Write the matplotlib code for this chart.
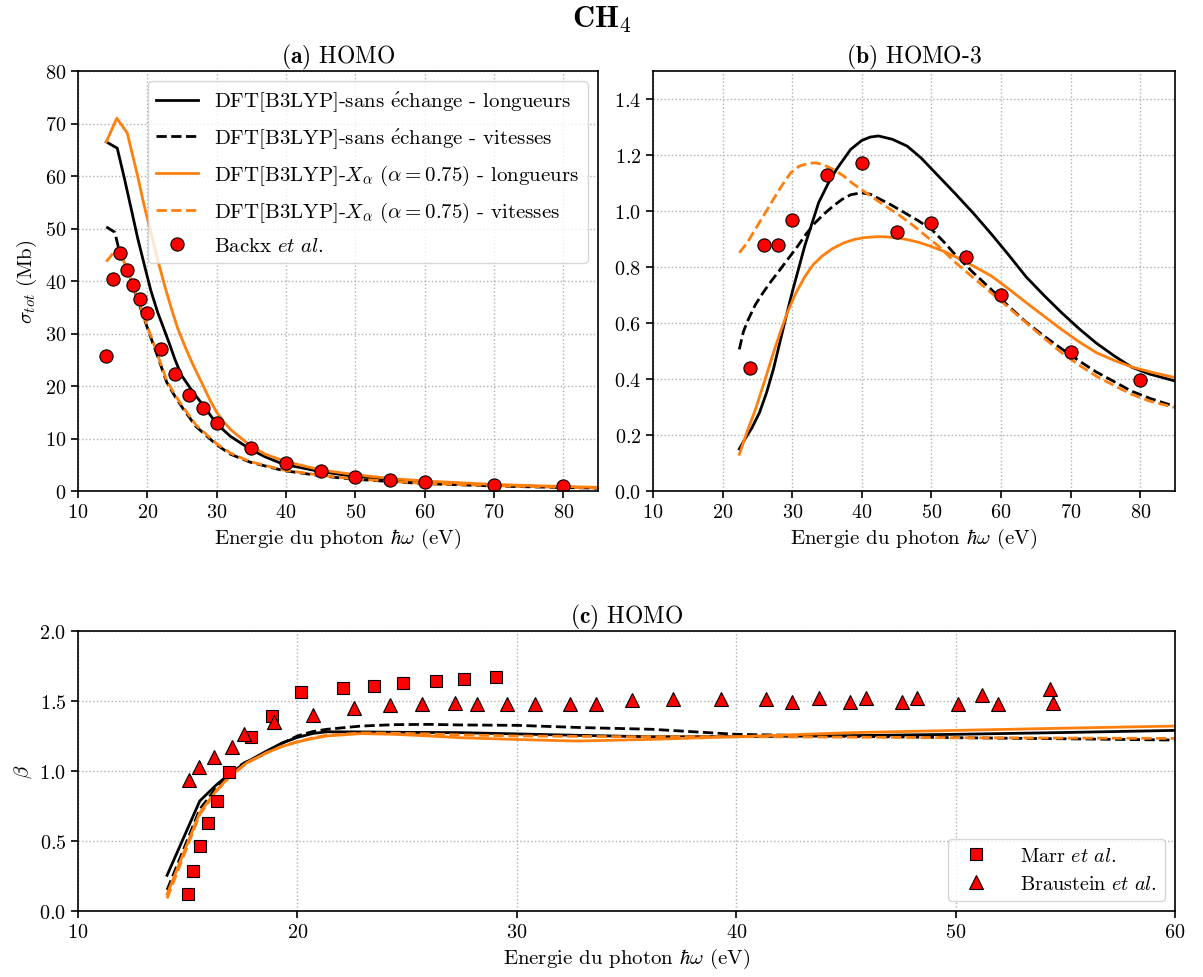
import matplotlib
matplotlib.use("Agg")
import matplotlib.pyplot as plt

plt.rcParams["font.family"] = ["cmr10", "DejaVu Serif"]
plt.rcParams["mathtext.fontset"] = "cm"
plt.rcParams["axes.formatter.use_mathtext"] = True
plt.rcParams["font.size"] = 14.5

BLACK = "black"
ORANGE = "#ff7f0e"

# ---------- (a) HOMO : sigma_tot ----------
a_len_x = [14.08, 15.66, 16.7, 17.68, 18.6, 19.6, 20.5, 21.5, 22.3, 23.2, 24.0, 24.9, 26.5, 28.06, 30, 32, 34.8, 37, 39.6, 45, 49.2, 55, 60, 70, 80, 85]
a_len_y = [66.5, 65.3, 59.5, 53.7, 48.2, 42.9, 38.2, 34.0, 31.2, 28.0, 25.0, 22.1, 19.0, 16.3, 12.8, 10.4, 8.0, 6.5, 5.1, 3.7, 2.9, 2.2, 1.7, 1.1, 0.75, 0.6]
a_vel_x = [14.08, 15.3, 16.0, 17.2, 18.9, 20.4, 21.5, 22.8, 24.0, 25.2, 27, 30, 32, 34.8, 39.6, 45, 49.2, 55, 60, 70, 80, 85]
a_vel_y = [50.3, 49.3, 45.5, 41.7, 35.3, 29.6, 25.6, 20.7, 18.0, 15.6, 12.3, 8.8, 7.0, 5.5, 3.9, 2.9, 2.3, 1.8, 1.4, 0.95, 0.65, 0.55]
a_xa_len_x = [14.08, 15.6, 17.1, 18.6, 19.5, 20.5, 21.5, 22.5, 23.5, 24.4, 25.5, 26.6, 28.0, 29.0, 30, 31, 32, 34.8, 37, 40, 45, 50, 55, 60, 70, 80, 85]
a_xa_len_y = [66.5, 71.0, 68.2, 60.0, 54.6, 49.3, 44.0, 39.1, 34.6, 30.9, 27.3, 24.0, 20.2, 17.4, 15.0, 13.2, 11.7, 8.7, 7.0, 5.6, 4.0, 3.1, 2.4, 1.9, 1.25, 0.85, 0.7]
a_xa_vel_x = [14.08, 15.66, 16.0, 17.2, 18.9, 20.4, 21.5, 22.8, 24.0, 25.2, 27, 30, 32, 34.8, 39.6, 45, 49.2, 55, 60, 70, 80, 85]
a_xa_vel_y = [43.7, 46.2, 45.6, 41.9, 35.6, 29.9, 25.9, 21.0, 18.3, 15.9, 12.6, 9.0, 7.2, 5.6, 4.0, 3.0, 2.4, 1.85, 1.45, 1.0, 0.7, 0.6]
a_exp_x = [14, 15, 16, 17, 18, 19, 20, 22, 24, 26, 28, 30, 35, 40, 45, 50, 55, 60, 70, 80]
a_exp_y = [25.8, 40.4, 45.3, 42.1, 39.3, 36.6, 34.0, 27.0, 22.2, 18.3, 15.9, 12.9, 8.1, 5.3, 3.9, 2.7, 2.1, 1.7, 1.1, 0.9]

# ---------- (b) HOMO-3 : sigma_tot ----------
b_len_x = [22.4, 23.2, 24.2, 25.3, 26.3, 27.3, 28.8, 30, 31.8, 33.8, 35.2, 36.4, 38.4, 40, 41.2, 42.4, 44.4, 46.5, 48.5, 51, 53.5, 56.1, 58.6, 61.1, 63.6, 66.2, 68.7, 71.2, 73.7, 76.3, 78.8, 81.3, 85]
b_len_y = [0.15, 0.185, 0.225, 0.28, 0.35, 0.435, 0.59, 0.71, 0.875, 1.03, 1.1, 1.15, 1.22, 1.252, 1.264, 1.268, 1.256, 1.232, 1.19, 1.125, 1.06, 0.99, 0.918, 0.843, 0.765, 0.698, 0.637, 0.58, 0.528, 0.482, 0.442, 0.418, 0.393]
b_vel_x = [22.4, 23.0, 23.7, 24.7, 25.8, 27.0, 28.3, 29.5, 30.8, 32.0, 33.3, 34.6, 35.9, 37.2, 38.4, 39.9, 41.2, 42.4, 44.2, 46, 48, 50, 51.7, 53.5, 56, 58.6, 61.1, 63.6, 66.2, 68.7, 71.2, 73.7, 76.3, 78.8, 81.5, 85]
b_vel_y = [0.506, 0.57, 0.613, 0.665, 0.708, 0.75, 0.792, 0.832, 0.875, 0.918, 0.958, 0.99, 1.018, 1.042, 1.058, 1.065, 1.06, 1.045, 1.022, 0.996, 0.967, 0.935, 0.892, 0.842, 0.78, 0.72, 0.66, 0.603, 0.553, 0.508, 0.465, 0.425, 0.39, 0.356, 0.33, 0.302]
b_xa_len_x = [22.4, 23.5, 24.7, 26.0, 27.3, 28.3, 29.3, 30.5, 31.8, 33.0, 34.3, 35.8, 37.4, 39.0, 40.4, 42.0, 43.4, 45.0, 46.5, 48.2, 50, 51.7, 53.5, 56, 58.6, 61.1, 63.6, 66.2, 68.7, 71.2, 73.7, 76.3, 78.8, 81.5, 85]
b_xa_len_y = [0.131, 0.21, 0.29, 0.39, 0.494, 0.568, 0.637, 0.706, 0.765, 0.808, 0.839, 0.866, 0.886, 0.899, 0.905, 0.908, 0.908, 0.904, 0.898, 0.888, 0.873, 0.857, 0.836, 0.804, 0.768, 0.722, 0.673, 0.624, 0.577, 0.533, 0.494, 0.466, 0.443, 0.425, 0.405]
b_xa_vel_x = [22.4, 23.5, 24.7, 26.0, 27.3, 28.5, 29.8, 31.0, 32.3, 33.3, 34.3, 35.8, 37.4, 38.6, 39.9, 41.6, 43.4, 45.5, 47.5, 49.2, 51, 53.5, 56, 58.6, 61.1, 63.6, 66.2, 68.7, 71.2, 73.7, 76.3, 78.8, 81.5, 85]
b_xa_vel_y = [0.851, 0.885, 0.935, 0.988, 1.042, 1.09, 1.137, 1.16, 1.17, 1.172, 1.167, 1.15, 1.125, 1.1, 1.077, 1.048, 1.018, 0.983, 0.946, 0.911, 0.875, 0.815, 0.762, 0.708, 0.655, 0.601, 0.546, 0.494, 0.45, 0.41, 0.376, 0.345, 0.32, 0.298]
b_exp_x = [24, 26, 28, 30, 35, 40, 45, 50, 55, 60, 70, 80]
b_exp_y = [0.44, 0.88, 0.88, 0.967, 1.13, 1.17, 0.926, 0.957, 0.837, 0.701, 0.495, 0.396]

# ---------- (c) HOMO : beta ----------
c_len_x = [14.06, 15.55, 16.3, 16.93, 17.69, 18.6, 19.3, 20, 20.7, 21.34, 22.9, 25, 27.4, 30, 33, 36, 40, 45, 50, 55, 60]
c_len_y = [0.255, 0.786, 0.9, 0.983, 1.064, 1.143, 1.2, 1.24, 1.268, 1.28, 1.279, 1.276, 1.274, 1.265, 1.254, 1.245, 1.245, 1.252, 1.262, 1.275, 1.29]
c_vel_x = [14.06, 15.55, 16.3, 16.93, 17.6, 18.3, 19.2, 20, 20.7, 21.34, 22.9, 24.4, 26, 27.4, 30, 33, 36.15, 40, 45, 50, 55, 60]
c_vel_y = [0.15, 0.726, 0.88, 0.993, 1.06, 1.107, 1.19, 1.25, 1.282, 1.298, 1.321, 1.331, 1.333, 1.329, 1.326, 1.31, 1.298, 1.262, 1.248, 1.238, 1.23, 1.221]
c_xa_len_x = [14.06, 15.55, 16.3, 16.93, 17.7, 18.6, 19.3, 20, 20.7, 21.34, 22.9, 24.4, 26, 27.4, 30, 32.7, 36.15, 40, 45.3, 50, 55, 60]
c_xa_len_y = [0.12, 0.702, 0.86, 0.964, 1.06, 1.131, 1.175, 1.207, 1.232, 1.25, 1.267, 1.262, 1.25, 1.238, 1.225, 1.214, 1.226, 1.245, 1.274, 1.29, 1.306, 1.321]
c_xa_vel_x = [14.06, 15.55, 16.3, 16.93, 17.7, 18.6, 19.3, 20, 20.7, 21.34, 22.9, 24.4, 26, 27.4, 30, 35, 40, 45, 50, 55, 60]
c_xa_vel_y = [0.09, 0.69, 0.855, 0.96, 1.057, 1.13, 1.177, 1.21, 1.237, 1.255, 1.272, 1.27, 1.265, 1.258, 1.25, 1.245, 1.245, 1.242, 1.238, 1.235, 1.233]
marr_x = [15.02, 15.25, 15.56, 15.94, 16.32, 16.9, 17.87, 18.84, 20.18, 22.07, 23.5, 24.8, 26.3, 27.6, 29.04]
marr_y = [0.119, 0.286, 0.464, 0.626, 0.786, 0.995, 1.245, 1.393, 1.564, 1.59, 1.607, 1.631, 1.643, 1.655, 1.674]
braus_x = [15.05, 15.5, 16.2, 17.03, 17.58, 18.95, 20.7, 22.6, 24.2, 25.7, 27.2, 28.19, 29.54, 30.83, 32.41,
           33.63, 35.26, 37.1, 39.29, 41.36, 42.55, 43.79, 45.2, 45.9, 47.57, 48.26, 50.09, 51.19, 51.93, 54.3, 54.43]
braus_y = [0.933, 1.029, 1.1, 1.174, 1.262, 1.35, 1.398, 1.45, 1.469, 1.476, 1.488, 1.476, 1.476, 1.476, 1.476,
           1.476, 1.507, 1.512, 1.512, 1.517, 1.493, 1.521, 1.493, 1.521, 1.493, 1.521, 1.476, 1.54, 1.476, 1.583, 1.488]

e_acute = r"$\mathrm{\acute{e}}$"
labels = [
    "DFT[B3LYP]-sans " + e_acute + "change - longueurs",
    "DFT[B3LYP]-sans " + e_acute + "change - vitesses",
    r"DFT[B3LYP]-$X_\alpha$ ($\alpha = 0.75$) - longueurs",
    r"DFT[B3LYP]-$X_\alpha$ ($\alpha = 0.75$) - vitesses",
]
xlabel = r"Energie du photon $\hbar\omega$ (eV)"

W, H = 1203, 978
fig = plt.figure(figsize=(W / 100, H / 100), dpi=100)
ax_a = fig.add_axes([78 / W, 1 - 492 / H, 520 / W, 420 / H])
ax_b = fig.add_axes([653 / W, 1 - 492 / H, 522 / W, 420 / H])
ax_c = fig.add_axes([78 / W, 1 - 912 / H, 1097 / W, 280 / H])

lw = 2.0


def draw_curves(ax, l, v, xl, xv):
    ax.plot(*l, color=BLACK, lw=lw, label=labels[0])
    ax.plot(*v, color=BLACK, lw=lw, ls="--", label=labels[1])
    ax.plot(*xl, color=ORANGE, lw=lw, label=labels[2])
    ax.plot(*xv, color=ORANGE, lw=lw, ls="--", label=labels[3])


for ax in (ax_a, ax_b, ax_c):
    ax.grid(True, ls=":", color="#b0b0b0", lw=1.0)
    ax.set_axisbelow(True)
    for s in ax.spines.values():
        s.set_linewidth(1.2)
    ax.tick_params(width=1.2, length=5, labelsize=14.5)

# (a)
draw_curves(ax_a, (a_len_x, a_len_y), (a_vel_x, a_vel_y), (a_xa_len_x, a_xa_len_y), (a_xa_vel_x, a_xa_vel_y))
ax_a.plot(a_exp_x, a_exp_y, "o", ms=9.5, mfc="red", mec="black", mew=0.8, ls="none", label=r"Backx $et\ al.$")
ax_a.set_xlim(10, 85)
ax_a.set_ylim(0, 80)
ax_a.set_ylabel(r"$\sigma_{tot}$ (Mb)", fontsize=15)
ax_a.set_xlabel(xlabel, fontsize=15)
ax_a.set_title(r"($\mathbf{a}$) HOMO", fontsize=17)
ax_a.legend(loc="upper right", fontsize=15, framealpha=0.8, labelspacing=0.6)

# (b)
draw_curves(ax_b, (b_len_x, b_len_y), (b_vel_x, b_vel_y), (b_xa_len_x, b_xa_len_y), (b_xa_vel_x, b_xa_vel_y))
ax_b.plot(b_exp_x, b_exp_y, "o", ms=9.5, mfc="red", mec="black", mew=0.8, ls="none")
ax_b.set_xlim(10, 85)
ax_b.set_ylim(0, 1.5)
ax_b.set_yticks([0.0, 0.2, 0.4, 0.6, 0.8, 1.0, 1.2, 1.4])
ax_b.set_xlabel(xlabel, fontsize=15)
ax_b.set_title(r"($\mathbf{b}$) HOMO-3", fontsize=17)

# (c)
draw_curves(ax_c, (c_len_x, c_len_y), (c_vel_x, c_vel_y), (c_xa_len_x, c_xa_len_y), (c_xa_vel_x, c_xa_vel_y))
m1, = ax_c.plot(marr_x, marr_y, "s", ms=9, mfc="red", mec="black", mew=0.8, ls="none", label=r"Marr $et\ al.$")
m2, = ax_c.plot(braus_x, braus_y, "^", ms=10, mfc="red", mec="black", mew=0.8, ls="none", label=r"Braustein $et\ al.$")
ax_c.set_xlim(10, 60)
ax_c.set_ylim(0, 2.0)
ax_c.set_xticks([10, 20, 30, 40, 50, 60])
ax_c.set_ylabel(r"$\beta$", fontsize=15)
ax_c.set_xlabel(xlabel, fontsize=15)
ax_c.set_title(r"($\mathbf{c}$) HOMO", fontsize=17)
ax_c.legend(handles=[m1, m2], loc="lower right", fontsize=14.5, framealpha=0.8, handletextpad=1.2)

fig.text(0.5, 1 - 20 / H, r"$\mathbf{CH}_\mathbf{4}$", ha="center", va="center", fontsize=22)

fig.savefig("out.png", dpi=100)
